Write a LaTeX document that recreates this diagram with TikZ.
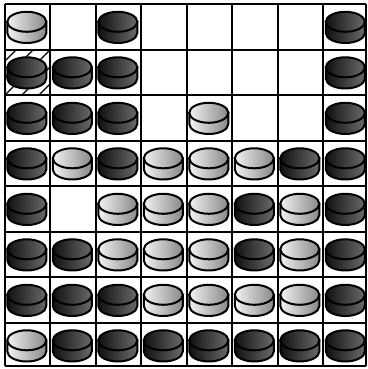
\documentclass[tikz,border=0pt]{standalone}
\begin{document}
\definecolor{wl}{HTML}{F2F2F2}
\definecolor{wr}{HTML}{888888}
\definecolor{bl}{HTML}{101010}
\definecolor{br}{HTML}{6A6A6A}
\tikzset{
  pieceline/.style={draw=black, line width=2pt},
  gridline/.style={draw=black, line width=2pt},
  hatchline/.style={draw=black, line width=1.4pt}
}
\newcommand{\othpiece}[3]{%
  \pgfmathsetmacro\pcx{4.5+45.5*#1+22.3}%
  \pgfmathsetmacro\pct{369-(4.5+45.5*#2+17.3)}%
  \pgfmathsetmacro\pcb{\pct-11.2}%
  \path[pieceline, left color=#3l, right color=#3r]
    (\pcx-19.5,\pct) -- (\pcx-19.5,\pcb)
    arc[start angle=180, end angle=360, x radius=19.5, y radius=10]
    -- (\pcx+19.5,\pct) -- cycle;
  \path[pieceline, left color=#3l, right color=#3r]
    (\pcx,\pct) ellipse[x radius=19.5, y radius=10];
}
\begin{tikzpicture}[x=1pt,y=1pt]
\useasboundingbox (0,0) rectangle (367,369);
\fill[white] (0,0) rectangle (367,369);
% hatch in cell (0,1)
\begin{scope}
  \clip (4.5,369-50) rectangle (50,369-95.5);
  \foreach \c in {49,66,83,100,117,134} {
    \draw[hatchline] (\c-100,369-100) -- (\c,369-0);
  }
\end{scope}
% grid
\foreach \k in {0,...,7} {
  \draw[gridline] (4.5+45.5*\k,369-4.5) -- (4.5+45.5*\k,369-366);
  \draw[gridline] (4.5,369-4.5-45.5*\k) -- (365.5,369-4.5-45.5*\k);
}
\draw[gridline] (365.5,369-4.5) -- (365.5,369-366);
\draw[gridline] (4.5,369-366) -- (365.5,369-366);
% pieces: col/row/colour (w or b)
\foreach \col/\row/\t in {
  0/0/w, 2/0/b, 7/0/b,
  0/1/b, 1/1/b, 2/1/b, 7/1/b,
  0/2/b, 1/2/b, 2/2/b, 4/2/w, 7/2/b,
  0/3/b, 1/3/w, 2/3/b, 3/3/w, 4/3/w, 5/3/w, 6/3/b, 7/3/b,
  0/4/b, 2/4/w, 3/4/w, 4/4/w, 5/4/b, 6/4/w, 7/4/b,
  0/5/b, 1/5/b, 2/5/w, 3/5/w, 4/5/w, 5/5/b, 6/5/w, 7/5/b,
  0/6/b, 1/6/b, 2/6/b, 3/6/w, 4/6/w, 5/6/w, 6/6/w, 7/6/b,
  0/7/w, 1/7/b, 2/7/b, 3/7/b, 4/7/b, 5/7/b, 6/7/b, 7/7/b} {
  \othpiece{\col}{\row}{\t}
}
\end{tikzpicture}
\end{document}
